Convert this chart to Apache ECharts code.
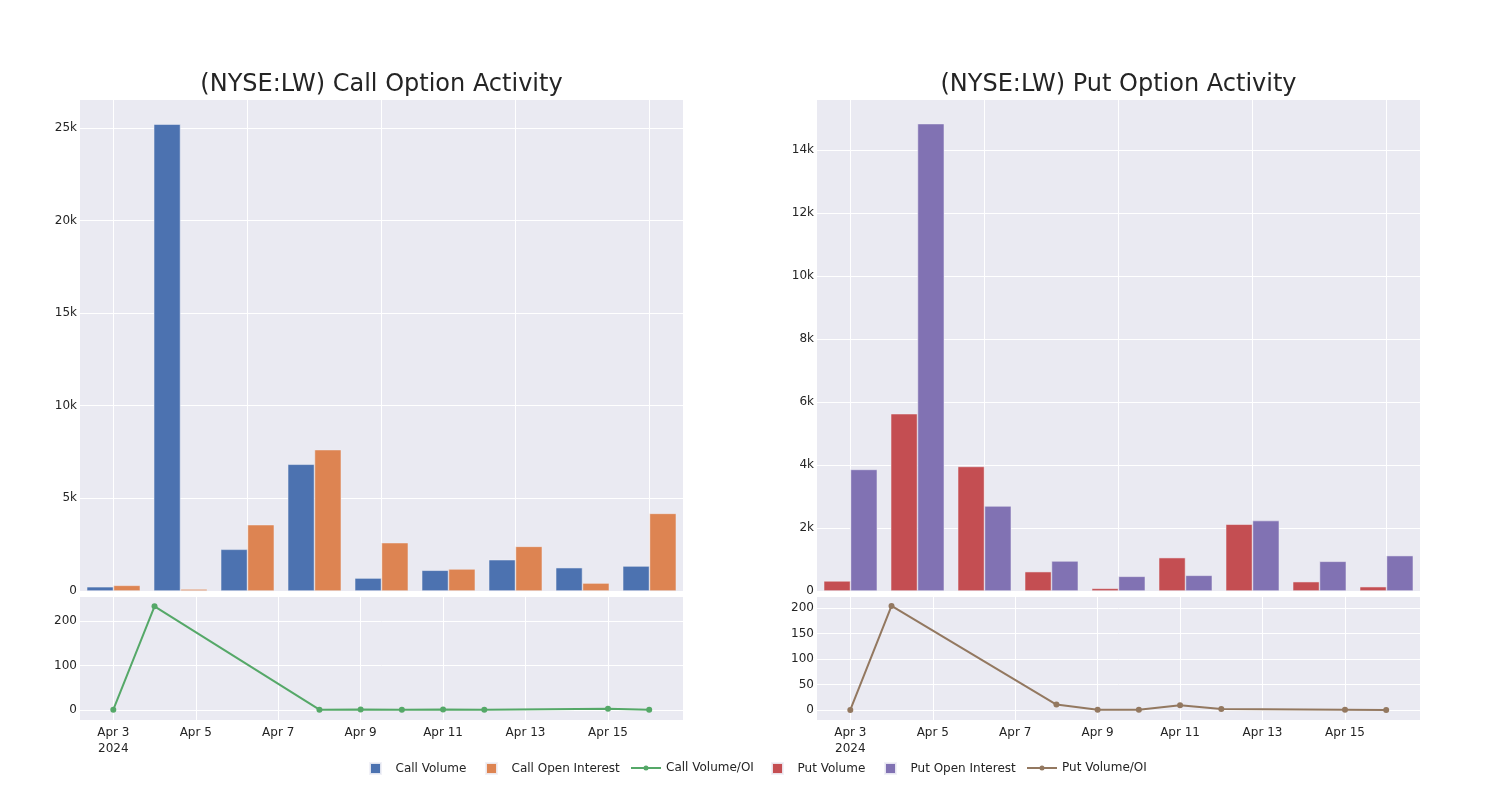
<!DOCTYPE html>
<html><head><meta charset="utf-8">
<script src="https://cdn.jsdelivr.net/npm/echarts@6/dist/echarts.min.js"></script>
<style>html,body{margin:0;padding:0;background:#fff}#c{width:1500px;height:800px}</style>
</head><body><div id="c"></div>
<script>
const dates = ['2024-04-03','2024-04-04','2024-04-08','2024-04-09','2024-04-10','2024-04-11','2024-04-12','2024-04-15','2024-04-16'];
const callVolume = [230, 25200, 2250, 6840, 700, 1120, 1690, 1260, 1350];
const callOpenInterest = [306, 108, 3580, 7630, 2610, 1190, 2410, 430, 4190];
const callVolumeOI = [0.75, 233, 0.63, 0.9, 0.27, 0.94, 0.7, 2.9, 0.32];
const putVolume = [320, 5630, 3955, 615, 85, 1060, 2120, 297, 138];
const putOpenInterest = [3860, 14840, 2700, 954, 466, 498, 2237, 943, 1124];
const putVolumeOI = [0.1, 204, 10.6, 0.4, 0.4, 9.2, 2, 0.7, 0.1];
const tickDates = ['2024-04-03','2024-04-05','2024-04-07','2024-04-09','2024-04-11','2024-04-13','2024-04-15'];
const callBarTicks = [0, 5000, 10000, 15000, 20000, 25000];
const putBarTicks = [0, 2000, 4000, 6000, 8000, 10000, 12000, 14000];
const callRatioTicks = [0, 100, 200];
const putRatioTicks = [0, 50, 100, 150, 200];

const FONT = 'DejaVu Sans';
const TXT = '#242424';
const BG = '#EAEAF2';
const DAY = 86400000;
const MONTHS = ['Jan','Feb','Mar','Apr','May','Jun','Jul','Aug','Sep','Oct','Nov','Dec'];
const tickTimes = tickDates.map(d => Date.parse(d));
const tMin = Date.parse(dates[0]) - 0.808 * DAY;
const tMax = Date.parse(dates[dates.length - 1]) + 0.82 * DAY;

function kFmt(v) { return v === 0 ? '0' : (v / 1000) + 'k'; }
function dateFmt(v) {
  const d = new Date(v);
  const s = MONTHS[d.getUTCMonth()] + ' ' + d.getUTCDate();
  return v === tickTimes[0] ? s + '\n' + d.getUTCFullYear() : s;
}

const grids = [
  {left: 80, top: 100, width: 603, height: 491},
  {left: 80, top: 597, width: 603, height: 123},
  {left: 817, top: 100, width: 603, height: 491},
  {left: 817, top: 597, width: 603, height: 123}
].map(g => Object.assign({show: true, backgroundColor: BG, borderWidth: 0, containLabel: false, outerBoundsMode: 'none'}, g));

const splitWhite = {show: true, lineStyle: {color: '#ffffff', width: 1}};
const noLine = {show: false};

function catAxis(gi) {
  return {type: 'category', gridIndex: gi, data: dates, boundaryGap: true,
    axisLine: noLine, axisTick: noLine, axisLabel: {show: false}, splitLine: {show: false}};
}
function gridLineAxis(gi) {
  return {type: 'value', gridIndex: gi, min: -0.5, max: dates.length - 0.5,
    axisLine: noLine, axisTick: {show: false, customValues: [0, 2, 4, 6, 8]},
    axisLabel: {show: false, customValues: [0, 2, 4, 6, 8]}, splitLine: splitWhite};
}
function timeAxis(gi) {
  return {type: 'value', gridIndex: gi, min: tMin, max: tMax, scale: true,
    axisLine: noLine, axisTick: {show: false, customValues: tickTimes},
    axisLabel: {customValues: tickTimes, formatter: dateFmt, color: TXT, fontSize: 12,
      fontFamily: FONT, margin: 5, lineHeight: 16},
    splitLine: splitWhite};
}
function yAxis(gi, min, max, ticks, fmt) {
  return {type: 'value', gridIndex: gi, min: min, max: max,
    axisLine: noLine, axisTick: {show: false, customValues: ticks},
    axisLabel: {customValues: ticks, formatter: fmt, color: TXT, fontSize: 12, fontFamily: FONT, margin: 3},
    splitLine: splitWhite};
}

const barStyle = c => ({color: c, borderColor: 'rgba(240,240,246,0.9)', borderWidth: 0.6});
function barSeries(name, data, color, xi, yi) {
  return {type: 'bar', name: name, data: data, xAxisIndex: xi, yAxisIndex: yi,
    barGap: '0%', barCategoryGap: '20%', itemStyle: barStyle(color), emphasis: {disabled: true}};
}
function lineSeries(name, data, color, xi, yi) {
  return {type: 'line', name: name, xAxisIndex: xi, yAxisIndex: yi,
    data: dates.map((d, i) => [Date.parse(d), data[i]]),
    symbol: 'circle', symbolSize: 6, showSymbol: true,
    lineStyle: {color: color, width: 2}, itemStyle: {color: color}, emphasis: {disabled: true}};
}

const SQ = 'path://M0 0H10V10H0Z';
const LN = 'path://M0 1.5H30V3.5H0Z M15 0A2.5 2.5 0 1 1 15 5A2.5 2.5 0 1 1 15 0Z';
const legendItems = [
  ['Call Volume', SQ, 369],
  ['Call Open Interest', SQ, 485],
  ['Call Volume/OI', LN, 631],
  ['Put Volume', SQ, 771],
  ['Put Open Interest', SQ, 884],
  ['Put Volume/OI', LN, 1027]
];
const option = {
  animation: false,
  backgroundColor: '#ffffff',
  textStyle: {fontFamily: FONT},
  graphic: [
    {type: 'text', x: 381.5, y: 85, style: {text: '(NYSE:LW) Call Option Activity', font: '24px "DejaVu Sans"', fill: TXT, textAlign: 'center', textVerticalAlign: 'middle'}},
    {type: 'text', x: 1118.5, y: 85, style: {text: '(NYSE:LW) Put Option Activity', font: '24px "DejaVu Sans"', fill: TXT, textAlign: 'center', textVerticalAlign: 'middle'}}
  ],
  legend: legendItems.map(it => ({
    top: 762, left: it[2], padding: 0, itemWidth: 30, itemHeight: 11, itemGap: 0,
    selectedMode: false,
    textStyle: {fontSize: 12, color: TXT, fontFamily: FONT},
    data: [{name: it[0], icon: it[1]}]
  })),
  grid: grids,
  xAxis: [catAxis(0), gridLineAxis(0), timeAxis(1), catAxis(2), gridLineAxis(2), timeAxis(3)],
  yAxis: [
    yAxis(0, 0, 26500, callBarTicks, kFmt),
    yAxis(1, -22.5, 254, callRatioTicks, v => String(v)),
    yAxis(2, 0, 15590, putBarTicks, kFmt),
    yAxis(3, -19.6, 221.6, putRatioTicks, v => String(v))
  ],
  series: [
    barSeries('Call Volume', callVolume, '#4C72B0', 0, 0),
    barSeries('Call Open Interest', callOpenInterest, '#DD8452', 0, 0),
    lineSeries('Call Volume/OI', callVolumeOI, '#55A868', 2, 1),
    barSeries('Put Volume', putVolume, '#C44E52', 3, 2),
    barSeries('Put Open Interest', putOpenInterest, '#8172B3', 3, 2),
    lineSeries('Put Volume/OI', putVolumeOI, '#937860', 5, 3)
  ]
};
const chart = echarts.init(document.getElementById('c'), null, {renderer: 'canvas'});
chart.setOption(option);
</script>
</body></html>
